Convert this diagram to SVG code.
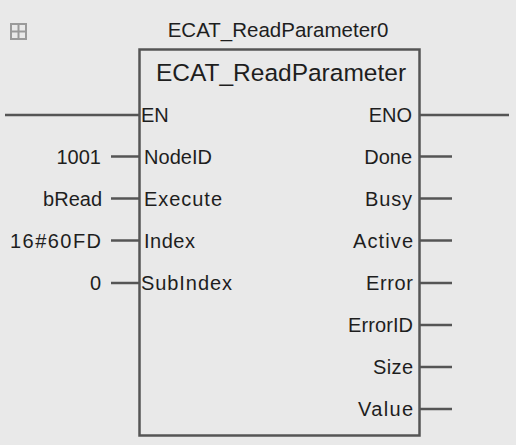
<svg xmlns="http://www.w3.org/2000/svg" width="516" height="445" viewBox="0 0 516 445">
  <style>
    .bg { fill: #e9e9e9; }
    .wire { stroke: #555555; stroke-width: 2.5; fill: none; }
    .frame { stroke: #555555; stroke-width: 2.5; fill: #e9e9e9; }
    .txt { font-family: "Liberation Sans", Arial, sans-serif; fill: #1e1e1e; }
    .pin { font-size: 20px; }
    .pinR { font-size: 20px; text-anchor: end; }
    .val { font-size: 20px; text-anchor: end; }
    .inst { font-size: 20.5px; text-anchor: middle; }
    .type { font-size: 24.5px; text-anchor: middle; }
    .icon { stroke: #9a9a9a; stroke-width: 2; fill: none; }
  </style>

  <rect class="bg" x="0" y="0" width="516" height="445"/>

  <!-- collapse/expand toggle -->
  <g id="toggle-icon">
    <rect class="icon" x="11" y="24" width="15" height="15"/>
    <line class="icon" x1="18.5" y1="24" x2="18.5" y2="39"/>
    <line class="icon" x1="11" y1="31.5" x2="26" y2="31.5"/>
  </g>

  <!-- wires and pin stubs -->
  <g id="connectors">
    <line class="wire" x1="5" y1="115" x2="139" y2="115"/>
    <line class="wire" x1="420" y1="115" x2="509" y2="115"/>
    <line class="wire" x1="111" y1="156.5" x2="139" y2="156.5"/>
    <line class="wire" x1="111" y1="198.5" x2="139" y2="198.5"/>
    <line class="wire" x1="111" y1="240.5" x2="139" y2="240.5"/>
    <line class="wire" x1="111" y1="283" x2="139" y2="283"/>
    <line class="wire" x1="420" y1="156.5" x2="452" y2="156.5"/>
    <line class="wire" x1="420" y1="198.5" x2="452" y2="198.5"/>
    <line class="wire" x1="420" y1="240.5" x2="452" y2="240.5"/>
    <line class="wire" x1="420" y1="283" x2="452" y2="283"/>
    <line class="wire" x1="420" y1="325" x2="452" y2="325"/>
    <line class="wire" x1="420" y1="367" x2="452" y2="367"/>
    <line class="wire" x1="420" y1="409" x2="452" y2="409"/>
  </g>

  <!-- function block instance -->
  <g id="ECAT_ReadParameter0">
    <text class="txt inst" x="278" y="37">ECAT_ReadParameter0</text>
    <rect class="frame" x="139.5" y="49.5" width="280" height="386"/>
    <text class="txt type" x="281" y="81">ECAT_ReadParameter</text>

    <text class="txt pin" x="141" y="122">EN</text>
    <text class="txt pin" x="144" y="164" textLength="68" lengthAdjust="spacing">NodeID</text>
    <text class="txt pin" x="144" y="206" textLength="78" lengthAdjust="spacing">Execute</text>
    <text class="txt pin" x="144" y="248" textLength="51" lengthAdjust="spacing">Index</text>
    <text class="txt pin" x="141" y="290" textLength="91" lengthAdjust="spacing">SubIndex</text>

    <text class="txt pinR" x="412" y="122">ENO</text>
    <text class="txt pinR" x="412" y="164">Done</text>
    <text class="txt pinR" x="412" y="206" textLength="47" lengthAdjust="spacing">Busy</text>
    <text class="txt pinR" x="413" y="248" textLength="60" lengthAdjust="spacing">Active</text>
    <text class="txt pinR" x="413" y="290" textLength="47" lengthAdjust="spacing">Error</text>
    <text class="txt pinR" x="413" y="332" textLength="65" lengthAdjust="spacing">ErrorID</text>
    <text class="txt pinR" x="413" y="374" textLength="40" lengthAdjust="spacing">Size</text>
    <text class="txt pinR" x="413" y="416" textLength="55" lengthAdjust="spacing">Value</text>
  </g>

  <!-- input values -->
  <g id="input-values">
    <text class="txt val" x="101" y="164">1001</text>
    <text class="txt val" x="102" y="206">bRead</text>
    <text class="txt val" x="101" y="248" textLength="91" lengthAdjust="spacing">16#60FD</text>
    <text class="txt val" x="101" y="290">0</text>
  </g>
</svg>
